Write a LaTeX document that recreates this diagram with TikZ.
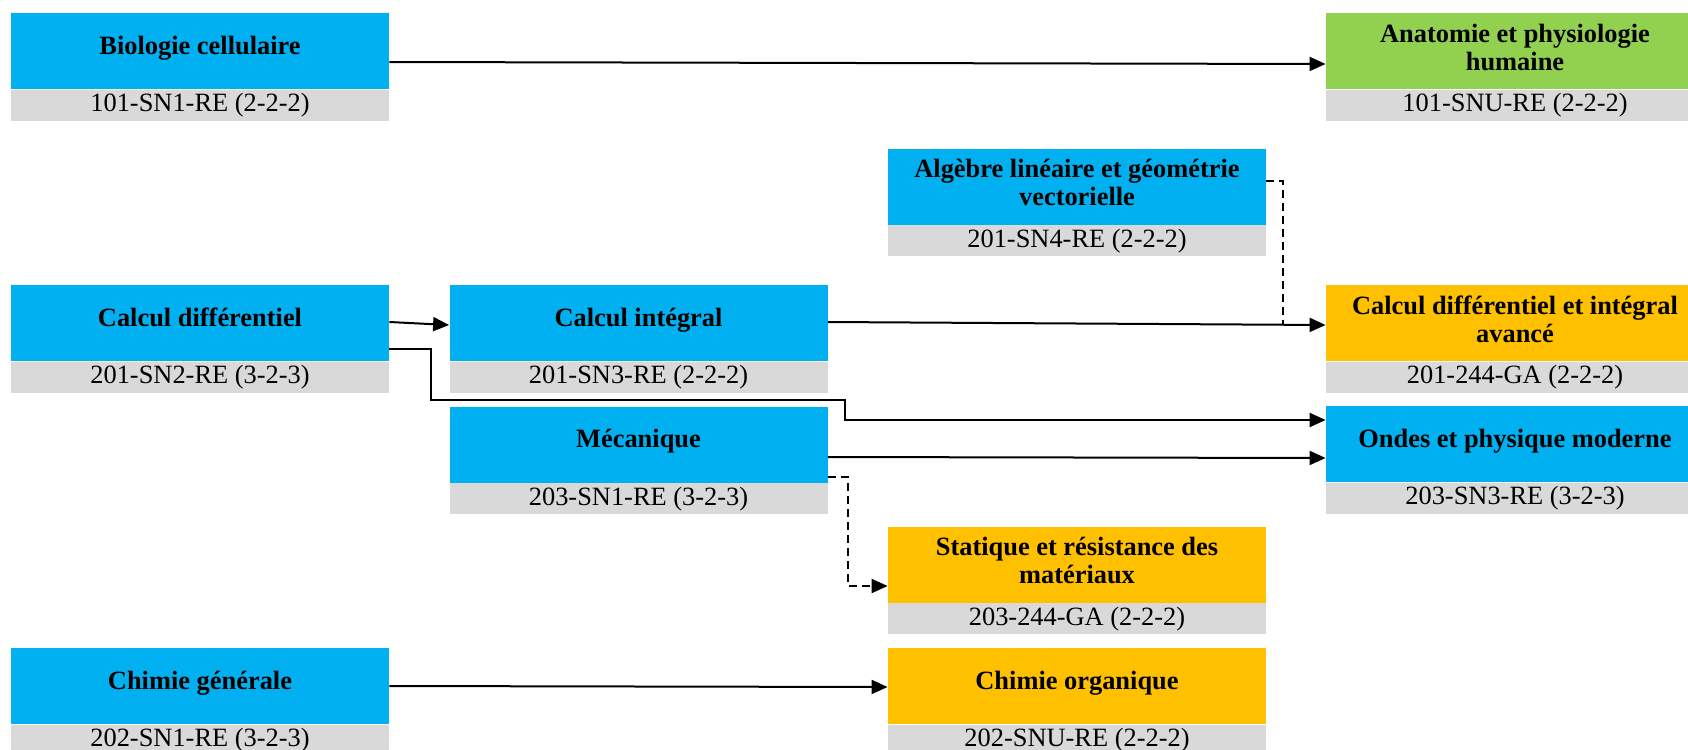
\documentclass[tikz,border=0pt]{standalone}
\usepackage{fontspec}
\setmainfont{Liberation Serif}
\usetikzlibrary{positioning}
\usetikzlibrary{arrows.meta}
\definecolor{coursblue}{HTML}{00B0F0}
\definecolor{coursgreen}{HTML}{92D050}
\definecolor{coursorange}{HTML}{FFC000}
\definecolor{coursgrey}{HTML}{D9D9D9}
\tikzset{
  course/.style={rectangle,inner sep=0pt,minimum width=189pt,minimum height=38pt,align=center},
  onerow/.style={course,font=\fontsize{13.2}{14}\selectfont\bfseries,text height=9.3pt,text depth=6pt},
  tworow/.style={course,font=\fontsize{13.2}{14}\selectfont\bfseries,text depth=4pt},
  coursecode/.style={rectangle,inner sep=0pt,minimum width=189pt,minimum height=15.5pt,fill=coursgrey,font=\fontsize{13.2}{15}\selectfont},
  arrowlink/.style={draw=black,line width=1pt,-{Triangle[length=8pt,width=7pt]}},
  dashlink/.style={draw=black,line width=1pt,dash pattern=on 4pt off 2.5pt}
}

\begin{document}
\begin{tikzpicture}[x=0.5pt,y=-0.5pt]
\useasboundingbox (0,0) rectangle (1688,750);
\clip (0,0) rectangle (1688,750);

\node[onerow,fill=coursblue] (bio) at (200,51) {Biologie cellulaire};
\node[coursecode,below=0pt of bio] (biocode) {101-SN1-RE (2-2-2)};
\node[tworow,fill=coursgreen] (anat) at (1515,51) {Anatomie et physiologie\\humaine};
\node[coursecode,below=0pt of anat] (anatcode) {101-SNU-RE (2-2-2)};
\node[tworow,fill=coursblue] (alg) at (1077,186.5) {Algèbre linéaire et géométrie\\vectorielle};
\node[coursecode,below=0pt of alg] (algcode) {201-SN4-RE (2-2-2)};
\node[onerow,fill=coursblue] (cdiff) at (200,323) {Calcul différentiel};
\node[coursecode,below=0pt of cdiff] (cdiffcode) {201-SN2-RE (3-2-3)};
\node[onerow,fill=coursblue] (cint) at (638.5,323) {Calcul intégral};
\node[coursecode,below=0pt of cint] (cintcode) {201-SN3-RE (2-2-2)};
\node[tworow,fill=coursorange] (cava) at (1515,323) {Calcul différentiel et intégral\\avancé};
\node[coursecode,below=0pt of cava] (cavacode) {201-244-GA (2-2-2)};
\node[onerow,fill=coursblue] (meca) at (638.5,444.5) {Mécanique};
\node[coursecode,below=0pt of meca] (mecacode) {203-SN1-RE (3-2-3)};
\node[onerow,fill=coursblue] (ondes) at (1515,444) {Ondes et physique moderne};
\node[coursecode,below=0pt of ondes] (ondescode) {203-SN3-RE (3-2-3)};
\node[tworow,fill=coursorange] (stat) at (1077,564.5) {Statique et résistance des\\matériaux};
\node[coursecode,below=0pt of stat] (statcode) {203-244-GA (2-2-2)};
\node[onerow,fill=coursblue] (chg) at (200,686) {Chimie générale};
\node[coursecode,below=0pt of chg] (chgcode) {202-SN1-RE (3-2-3)};
\node[onerow,fill=coursorange] (chorg) at (1077,686) {Chimie organique};
\node[coursecode,below=0pt of chorg] (chorgcode) {202-SNU-RE (2-2-2)};

\coordinate (algjoin) at (1283,324);
\coordinate (bendA) at (431,400);
\coordinate (bendB) at (845,420);

\draw[arrowlink] ([yshift=-5.5pt]bio.east) -- ([yshift=-6.5pt]anat.west);
\draw[arrowlink] ([yshift=0.5pt]cdiff.east) -- ([yshift=-1pt]cint.west);
\draw[arrowlink] ([yshift=0.5pt]cint.east) -- ([yshift=-1pt]cava.west);
\draw[dashlink] ([yshift=2.75pt]alg.east) -| (algjoin);
\draw[arrowlink] ([yshift=-13pt]cdiff.east) -| (bendA) -| (bendB) -- ([yshift=12pt]ondes.west);
\draw[arrowlink] ([yshift=-6.25pt]meca.east) -- ([yshift=-7pt]ondes.west);
\draw[arrowlink,dash pattern=on 4pt off 2.5pt] ([yshift=-16.25pt]meca.east) -- ++(10pt,0) |- ([yshift=-10.75pt]stat.west);
\draw[arrowlink] (chg.east) -- ([yshift=-0.5pt]chorg.west);

\end{tikzpicture}
\end{document}
